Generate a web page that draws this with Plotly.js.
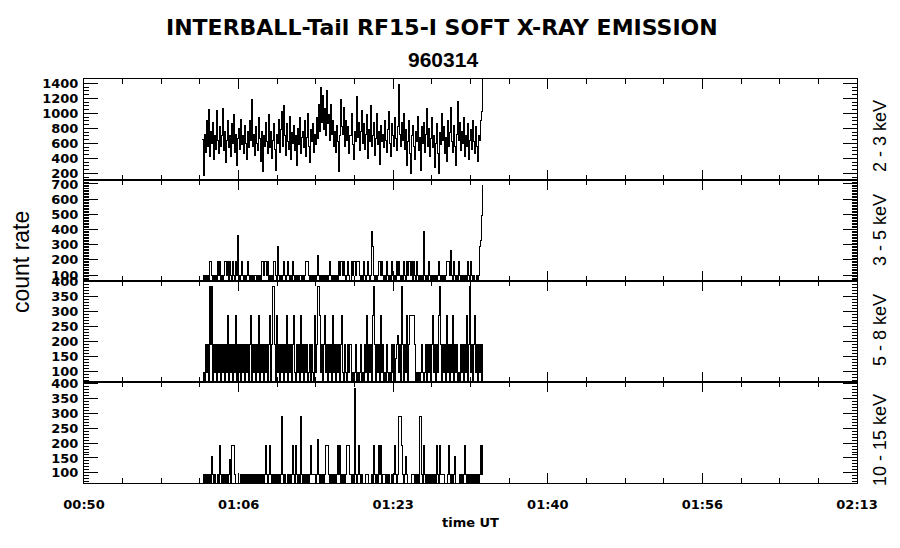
<!DOCTYPE html>
<html>
<head>
<meta charset="utf-8">
<script src="https://cdn.plot.ly/plotly-3.0.1.min.js"></script>
<style>
html,body{margin:0;padding:0;background:#fff;}
#chart{width:900px;height:548px;}
#chart .scatterlayer path.js-line{shape-rendering:crispEdges;}
</style>
</head>
<body>
<div id="chart"></div>
<script>
// ---- data ----
// time axis: minutes after 00:50 UT; samples every ~6.5 s starting 01:02:40
const startMinute = 12.67;
const sampleMinutes = 0.1081;
const tickMinutes = [0, 16.6, 33.2, 49.8, 66.4, 83];
const tickLabels = ['00:50', '01:06', '01:23', '01:40', '01:56', '02:13'];

// 2 - 3 keV count rate
const rate23 = [
  650, 170, 720, 480, 900, 560, 1050, 420, 760, 600, 880, 380, 700, 520, 1040, 640, 460, 820, 560, 700,
  1060, 500, 760, 340, 640, 900, 540, 700, 420, 860, 600, 980, 480, 720, 300, 660, 800, 520, 920, 580,
  700, 460, 840, 600, 380, 760, 540, 900, 640, 1190, 560, 720, 440, 820, 600, 500, 940, 660, 360, 760,
  220, 700, 560, 880, 620, 460, 980, 540, 760, 400, 640, 860, 520, 240, 720, 600, 920, 480, 780, 1020,
  560, 1100, 700, 440, 860, 620, 520, 960, 380, 740, 600, 840, 500, 700, 300, 800, 580, 940, 460, 680,
  760, 540, 900, 420, 680, 1000, 560, 340, 780, 620, 860, 480, 720, 580, 940, 660, 1120, 760, 1350, 880,
  1240, 780, 1060, 700, 1300, 860, 980, 640, 1120, 720, 900, 560, 760, 480, 840, 620, 220, 700, 1180, 820,
  720, 1080, 560, 900, 640, 820, 460, 700, 1000, 580, 380, 760, 620, 1220, 680, 880, 500, 760, 1040, 600,
  860, 520, 720, 980, 400, 780, 620, 1100, 560, 700, 880, 440, 660, 1000, 580, 760, 320, 840, 620, 720,
  540, 900, 640, 480, 780, 1020, 600, 420, 860, 700, 560, 940, 660, 500, 820, 1380, 720, 560, 880, 640,
  1000, 520, 780, 300, 620, 900, 460, 200, 700, 840, 560, 380, 760, 620, 960, 500, 680, 240, 820, 600,
  880, 480, 720, 1060, 560, 800, 420, 660, 940, 540, 700, 280, 600, 860, 460, 200, 740, 580, 1000, 640,
  820, 460, 680, 360, 900, 560, 740, 1080, 620, 480, 840, 560, 300, 720, 1160, 640, 880, 500, 760, 600,
  940, 420, 700, 560, 860, 380, 640, 780, 520, 900, 620, 460, 820, 560, 360, 700, 640, 900, 1020, 1480
];
// counts per sample (one count = 96 count-rate units) for the harder bands
const countUnit = 96;
const counts35 = [
  0, 1, 0, 1, 0, 1, 0, 2, 2, 1, 0, 1, 0, 1, 0, 2, 1, 2, 0, 1,
  0, 1, 2, 2, 1, 2, 0, 2, 1, 0, 2, 1, 0, 2, 1, 3.75, 1, 0, 1, 2,
  1, 0, 1, 0, 1, 2, 1, 0, 1, 0, 1, 0, 1, 1, 0, 1, 0, 1, 0, 2,
  2, 1, 2, 2, 1, 2, 0, 1, 0, 1, 0, 2, 2, 1, 0, 3, 1, 0, 1, 0,
  1, 2, 1, 0, 1, 2, 1, 0, 1, 0, 2, 1, 0, 1, 0, 1, 0, 1, 1, 0,
  1, 0, 1, 2, 2, 2, 1, 0, 1, 0, 1, 0, 1, 0, 1, 2.4, 1, 0, 1, 0,
  1, 0, 1, 0, 1, 0, 1, 2, 1, 0, 1, 0, 1, 0, 1, 0, 2, 1, 2, 2,
  1, 2, 1, 0, 1, 2, 1, 0, 2, 1, 2, 2, 1, 2, 2, 2, 1, 0, 1, 0,
  2, 1, 0, 1, 2, 1, 0, 1, 4, 3, 1, 0, 1, 0, 1, 2, 2, 1, 2, 1,
  0, 1, 0, 2, 1, 0, 1, 0, 2, 1, 0, 1, 0, 2, 1, 2, 1, 0, 1, 0,
  2, 1, 0, 2, 1, 2, 2, 1, 2, 0, 2, 1, 0, 2, 1, 0, 1, 0, 1, 0,
  4, 1, 0, 1, 0, 2, 1, 0, 1, 0, 1, 0, 1, 0, 1, 2, 1, 0, 1, 0,
  1, 0, 1, 2, 2, 2, 1, 2.75, 1, 0, 2, 1, 0, 1, 0, 2, 1, 0, 1, 0,
  1, 0, 1, 0, 2, 1, 0, 2, 1, 0, 1, 0, 0, 1, 0, 1, 3, 3.4, 5.1, 7.2
];
const counts58 = [
  0, 1, 0, 2, 1, 2, 0, 4, 2, 4, 0, 2, 1, 2, 0, 2, 1, 2, 0, 2,
  1, 2, 0, 2, 1, 3, 0, 2, 1, 2, 0, 2, 1, 3, 0, 2, 1, 2, 0, 2,
  1, 2, 0, 2, 1, 2, 0, 2, 3, 0, 2, 1, 2, 0, 2, 1, 3, 0, 2, 1,
  2, 0, 2, 1, 2, 0, 2, 3, 0, 2, 4, 4, 2, 0, 3, 1, 2, 0, 2, 1,
  2, 0, 2, 1, 3, 0, 2, 1, 2, 0, 2, 3, 1, 0, 2, 1, 2, 0, 3, 1,
  2, 0, 2, 1, 2, 0, 1, 2, 0, 2, 1, 0, 3, 1, 2, 4, 4, 3, 1, 2,
  0, 2, 3, 1, 2, 0, 2, 1, 2, 0, 3, 1, 2, 0, 2, 1, 2, 0, 2, 3,
  1, 0, 2, 1, 0, 2, 1, 2, 0, 1, 0, 1, 2, 0, 1, 0, 1, 2, 0, 1,
  0, 2, 1, 3, 0, 2, 1, 2, 0, 3, 4, 2, 0, 2, 1, 2, 0, 3, 1, 2,
  0, 1, 0, 2, 1, 0, 1, 0, 2, 1, 2, 0, 1.5, 2, 2.3, 1, 2, 0, 4, 2,
  0, 2, 1, 3, 0, 2, 3, 3, 3, 3, 3, 2, 0, 1, 0, 1, 0, 1, 2, 1,
  0, 1, 2, 0, 2, 1, 2, 0, 2, 3, 1, 2, 0, 2, 1, 3, 4, 2, 0, 2,
  1, 2, 0, 3, 1, 2, 0, 2, 1, 3, 0, 2, 1, 2, 0, 1, 0, 2, 1, 2,
  0, 2, 1, 3, 0, 2, 4, 1, 2, 0, 2, 3, 1, 2, 0, 2, 1, 2, 0, 2
];
const counts1015 = [
  0, 1, 0, 1, 0, 1, 0, 1, 0, 1.6, 1, 0, 1, 0, 0, 1, 0, 2, 1, 0,
  1, 0, 1, 0, 1, 0, 1, 1.5, 0, 2, 2, 2, 1, 0, 0, 0, 0, 0, 1, 0,
  1, 0, 1, 0, 1, 0, 1, 0, 1, 0, 1, 0, 1, 0, 1, 0, 1, 0, 1, 0,
  1, 0, 1, 2, 1, 0, 1, 2, 1, 0, 1, 0, 1, 0, 1, 0, 1, 0, 1, 3,
  1, 0, 1, 0, 0, 1, 0, 1, 0, 1, 2, 1, 0, 2, 1, 0, 1, 0, 3, 1,
  0, 1, 0, 1, 0, 1, 0, 1, 2, 1, 1, 1, 1, 0, 1, 2.2, 1, 0, 1, 0,
  1, 0, 1, 2, 2, 2, 1, 0, 1, 0, 1, 0, 1, 0, 1, 2, 1, 2, 0, 1,
  0, 1, 0, 1, 2, 2, 2, 1, 0, 1, 0, 4, 1, 0, 1, 2, 1, 0, 1, 0,
  0, 0, 1, 1, 1, 0, 0, 0, 1, 0, 2, 1, 0, 1, 0, 2, 1, 2, 0, 1,
  1, 1, 0, 1, 0, 1, 0, 0, 1, 0, 1, 2, 1, 0, 1, 3, 3, 3, 2, 1,
  0, 1, 1.6, 1, 0, 0, 0, 0, 1, 1, 1, 0, 1, 0, 1, 0, 3, 3, 1, 0,
  2, 1, 0, 1, 0, 1, 0, 1, 0, 1, 0, 1, 0, 2, 1, 0, 2, 1, 1, 1,
  1, 0, 0, 0, 1, 2, 1, 0, 1, 0, 1, 1.6, 0, 0, 0, 0, 1, 0, 1, 0,
  1, 2, 1, 0, 1, 0, 1, 0, 1, 0, 1, 0, 1, 0, 1, 0, 1, 2, 1, 2
];

const panelLabels = ['2 - 3 keV', '3 - 5 keV', '5 - 8 keV', '10 - 15 keV'];
const panelRanges = [[111, 1457], [61, 726], [66, 402], [66, 405]];
const panelTicks = [
  [200, 400, 600, 800, 1000, 1200, 1400],
  [100, 200, 300, 400, 500, 600, 700],
  [100, 150, 200, 250, 300, 350, 400],
  [100, 150, 200, 250, 300, 350, 400]
];
const panelMinor = [50, 10, 10, 10];

// ---- build ----
const series = [
  rate23,
  counts35.map(c => c * countUnit),
  counts58.map(c => c * countUnit),
  counts1015.map(c => c * countUnit)
];

const tickFont = {family: 'DejaVu Sans', size: 13, color: '#000', weight: 'bold'};
const traces = series.map((vals, k) => ({
  x: vals.map((_, i) => startMinute + i * sampleMinutes),
  y: vals,
  xaxis: k === 0 ? 'x' : 'x' + (k + 1),
  yaxis: k === 0 ? 'y' : 'y' + (k + 1),
  type: 'scatter', mode: 'lines',
  line: {color: '#000', width: 1, shape: 'hv'},
  hoverinfo: 'skip', showlegend: false
}));

const layout = {
  width: 900, height: 548,
  margin: {l: 84, r: 43, t: 79, b: 65, pad: 0},
  paper_bgcolor: '#fff', plot_bgcolor: '#fff',
  showlegend: false,
  annotations: []
};

// panels top to bottom: k=0 is the top panel
series.forEach((_, k) => {
  const top = 1 - k * 0.25, bot = top - 0.25;
  const xName = k === 0 ? 'xaxis' : 'xaxis' + (k + 1);
  const yName = k === 0 ? 'yaxis' : 'yaxis' + (k + 1);
  const yId = k === 0 ? 'y' : 'y' + (k + 1);
  const isBottom = k === 3;
  layout[xName] = {
    anchor: yId,
    domain: [0, 1],
    range: [0, 83],
    tickmode: 'array', tickvals: tickMinutes, ticktext: tickLabels,
    showticklabels: isBottom,
    ticks: 'inside', ticklen: 10, tickwidth: 1, tickcolor: '#000',
    minor: {tick0: 0, dtick: 4.15, ticks: 'inside', ticklen: 5, tickwidth: 1, tickcolor: '#000', showgrid: false},
    showline: true, linecolor: '#000', linewidth: 1, mirror: 'allticks',
    showgrid: false, zeroline: false,
    tickfont: tickFont, ticklabelstandoff: 9,
    fixedrange: true
  };
  if (k > 0) layout[xName].matches = 'x';
  layout[yName] = {
    anchor: k === 0 ? 'x' : 'x' + (k + 1),
    domain: [bot, top],
    range: panelRanges[k],
    tickmode: 'array', tickvals: panelTicks[k],
    ticks: 'inside', ticklen: 14, tickwidth: 1, tickcolor: '#000',
    minor: {tick0: 0, dtick: panelMinor[k], ticks: 'inside', ticklen: 5, tickwidth: 1, tickcolor: '#000', showgrid: false},
    showline: true, linecolor: '#000', linewidth: 1, mirror: 'allticks',
    showgrid: false, zeroline: false,
    tickfont: tickFont, ticklabelstandoff: 2,
    fixedrange: true
  };
});

// pixel -> paper helpers for text placement
const px = v => (v - 84) / 773;
const py = v => (483 - v) / 404;
layout.annotations.push(
  {text: 'INTERBALL-Tail RF15-I SOFT X-RAY EMISSION', x: px(442), y: py(27), xref: 'paper', yref: 'paper',
   xanchor: 'center', yanchor: 'middle', showarrow: false,
   font: {family: 'DejaVu Sans', size: 22, color: '#000', weight: 'bold'}},
  {text: '960314', x: px(443), y: py(60), xref: 'paper', yref: 'paper',
   xanchor: 'center', yanchor: 'middle', showarrow: false,
   font: {family: 'Liberation Sans', size: 21, color: '#000', weight: 'bold'}},
  {text: 'count rate', x: px(21), y: py(262), xref: 'paper', yref: 'paper', textangle: -90,
   xanchor: 'center', yanchor: 'middle', showarrow: false,
   font: {family: 'Liberation Sans', size: 23, color: '#000'}},
  {text: 'time UT', x: px(470), y: py(522), xref: 'paper', yref: 'paper',
   xanchor: 'center', yanchor: 'middle', showarrow: false,
   font: {family: 'DejaVu Sans', size: 13, color: '#000', weight: 'bold'}}
);
const labelCentres = [136, 230, 330, 440];
panelLabels.forEach((t, k) => {
  layout.annotations.push({text: t, x: px(880), y: py(labelCentres[k]), xref: 'paper', yref: 'paper',
    textangle: -90, xanchor: 'center', yanchor: 'middle', showarrow: false,
    font: {family: 'Liberation Sans', size: 18, color: '#000'}});
});

Plotly.newPlot('chart', traces, layout, {staticPlot: true, displayModeBar: false});
</script>
</body>
</html>
